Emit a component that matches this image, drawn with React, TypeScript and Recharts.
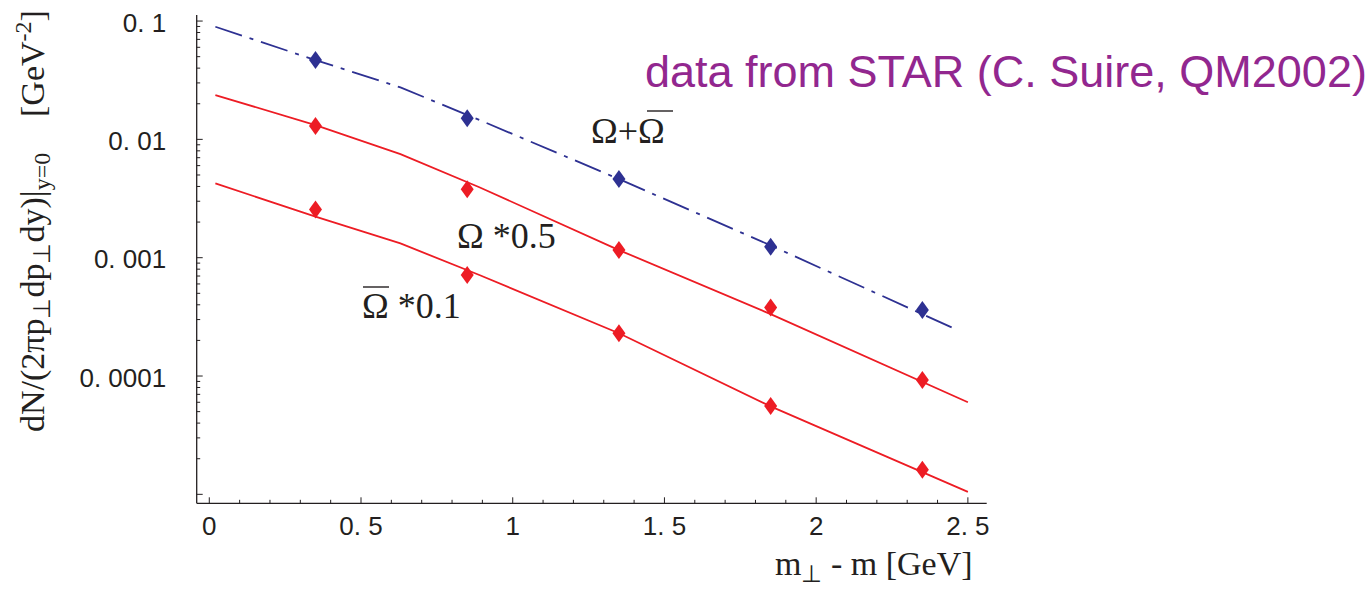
import React from 'react';
import { ComposedChart, Line, Scatter, XAxis, YAxis } from 'recharts';

// measured points (STAR, QM2002)
const markerX = [0.35, 0.85, 1.35, 1.85, 2.35];
const sumValues = [0.0468, 0.0151, 0.00462, 0.00124, 0.000361]; // Omega + anti-Omega
const omegaValues = [0.013, 0.00379, 0.00116, 0.00038, 0.0000925]; // Omega * 0.5
const antiOmegaValues = [0.00256, 0.000714, 0.00023, 0.0000557, 0.0000161]; // anti-Omega * 0.1

// model curves
const sumCurveX = [0.02, 0.35, 0.63, 0.89, 1.35, 1.85, 2.465];
const sumCurve = [0.0895, 0.0468, 0.0275, 0.0146, 0.00462, 0.00127, 0.000245];
const omegaCurveX = [0.02, 0.35, 0.63, 0.89, 1.35, 1.85, 2.5];
const omegaCurve = [0.0237, 0.0132, 0.00751, 0.00394, 0.00116, 0.000334, 0.00006];
const antiOmegaCurve = [0.00425, 0.00222, 0.00132, 0.000714, 0.00023, 0.0000554, 0.0000105];

// axes
const xMajor = [0, 0.5, 1, 1.5, 2, 2.5];
const xLabels = ['0', '0. 5', '1', '1. 5', '2', '2. 5'];
const yMajor = [0.1, 0.01, 0.001, 0.0001];
const yLabels = ['0. 1', '0. 01', '0. 001', '0. 0001'];
const yDecades = [-5, -4, -3, -2];

const xTicks: number[] = [];
for (let i = 0; i <= 25; i++) xTicks.push(i / 10);
const yTicks: number[] = [0.1];
yDecades.forEach((d) => {
  for (let k = 1; k <= 9; k++) yTicks.push(k * Math.pow(10, d));
});

const INK = '#231f20';
const RED = '#ed1c24';
const BLUE = '#2e3192';
const PURPLE = '#92278f';
const SERIF = '"Liberation Serif", "Times New Roman", serif';
const SANS = '"Liberation Sans", Arial, sans-serif';

const toPoints = (xs: number[], ys: number[]) => xs.map((x, i) => ({ x, y: ys[i] }));

const XTick = ({ x, y, payload }: any) => {
  const idx = xMajor.findIndex((m) => Math.abs(m - payload.value) < 1e-6);
  return (
    <g>
      <line x1={x} x2={x} y1={y} y2={y - (idx >= 0 ? 6 : 3.5)} stroke={INK} strokeWidth={1} />
      {idx >= 0 && (
        <text x={x} y={y + 31.7} textAnchor="middle" fontFamily={SANS} fontSize={26} fill={INK}>
          {xLabels[idx]}
        </text>
      )}
    </g>
  );
};

const YTick = ({ x, y, payload }: any) => {
  const idx = yMajor.findIndex((m) => Math.abs(payload.value / m - 1) < 1e-6);
  const isDecade = idx >= 0 || Math.abs(payload.value / 1e-5 - 1) < 1e-6;
  return (
    <g>
      <line x1={x} x2={x + (isDecade ? 6 : 3.5)} y1={y} y2={y} stroke={INK} strokeWidth={1} />
      {idx >= 0 && (
        <text x={x - 30.5} y={y + 10.5} textAnchor="end" fontFamily={SANS} fontSize={26} fill={INK}>
          {yLabels[idx]}
        </text>
      )}
    </g>
  );
};

const diamond = (color: string) => (props: any) => {
  const { cx, cy } = props;
  return (
    <path d={`M${cx},${cy - 9} L${cx + 6.5},${cy} L${cx},${cy + 9} L${cx - 6.5},${cy} Z`} fill={color} />
  );
};

export default function App() {
  return (
    <div style={{ position: 'absolute', left: 0, top: 0, background: '#fff' }}>
      <ComposedChart width={1370} height={591} margin={{ top: 15, right: 383.3, bottom: 0, left: 0 }}>
        <XAxis
          type="number"
          dataKey="x"
          domain={[-0.0415, 2.562]}
          allowDataOverflow
          ticks={xTicks}
          interval={0}
          height={87.7}
          tickSize={0}
          tickMargin={0}
          tickLine={false}
          tick={<XTick />}
          axisLine={{ stroke: INK, strokeWidth: 1.3 }}
        />
        <YAxis
          type="number"
          dataKey="y"
          scale="log"
          domain={[8.4e-6, 0.1125]}
          allowDataOverflow
          ticks={yTicks}
          interval={0}
          width={196.7}
          tickSize={0}
          tickMargin={0}
          tickLine={false}
          tick={<YTick />}
          axisLine={{ stroke: INK, strokeWidth: 1.3 }}
        />
        <Line
          data={toPoints(sumCurveX, sumCurve)}
          dataKey="y"
          type="linear"
          stroke={BLUE}
          strokeWidth={1.8}
          strokeDasharray="28 8 4 8"
          dot={false}
          isAnimationActive={false}
        />
        <Line
          data={toPoints(omegaCurveX, omegaCurve)}
          dataKey="y"
          type="linear"
          stroke={RED}
          strokeWidth={1.8}
          dot={false}
          isAnimationActive={false}
        />
        <Line
          data={toPoints(omegaCurveX, antiOmegaCurve)}
          dataKey="y"
          type="linear"
          stroke={RED}
          strokeWidth={1.8}
          dot={false}
          isAnimationActive={false}
        />
        <Scatter data={toPoints(markerX, sumValues)} dataKey="y" shape={diamond(BLUE)} isAnimationActive={false} />
        <Scatter data={toPoints(markerX, omegaValues)} dataKey="y" shape={diamond(RED)} isAnimationActive={false} />
        <Scatter data={toPoints(markerX, antiOmegaValues)} dataKey="y" shape={diamond(RED)} isAnimationActive={false} />

        {/* annotations */}
        <text x={645} y={87} fontFamily={SANS} fontSize={45} fill={PURPLE}>
          data from STAR (C. Suire, QM2002)
        </text>
        <text x={591} y={143} fontFamily={SERIF} fontSize={36} fill={INK}>
          Ω+Ω
        </text>
        <line x1={647} x2={673} y1={111} y2={111} stroke={INK} strokeWidth={1.4} />
        <text x={457} y={248} fontFamily={SERIF} fontSize={36} fill={INK}>
          Ω *0.5
        </text>
        <text x={362} y={318} fontFamily={SERIF} fontSize={36} fill={INK}>
          Ω *0.1
        </text>
        <line x1={363} x2={389} y1={287} y2={287} stroke={INK} strokeWidth={1.4} />

        <text x={775} y={575} fontFamily={SERIF} fontSize={34} fill={INK}>
          m<tspan dy={7} fontSize={24}>⊥</tspan>
          <tspan dy={-7}> - m [GeV]</tspan>
        </text>
        <text transform="translate(44,432) rotate(-90)" fontFamily={SERIF} fontSize={34} fill={INK}>
          dN/(2πp<tspan dy={6} fontSize={24}>⊥</tspan>
          <tspan dy={-6}>dp</tspan>
          <tspan dy={6} fontSize={24}>⊥</tspan>
          <tspan dy={-6}>dy)|</tspan>
          <tspan dy={6} fontSize={24}>y=0</tspan>
        </text>
        <text transform="translate(44,117) rotate(-90)" fontFamily={SERIF} fontSize={34} fill={INK}>
          [GeV<tspan dy={-13} fontSize={24}>-2</tspan>
          <tspan dy={13}>]</tspan>
        </text>
      </ComposedChart>
    </div>
  );
}
